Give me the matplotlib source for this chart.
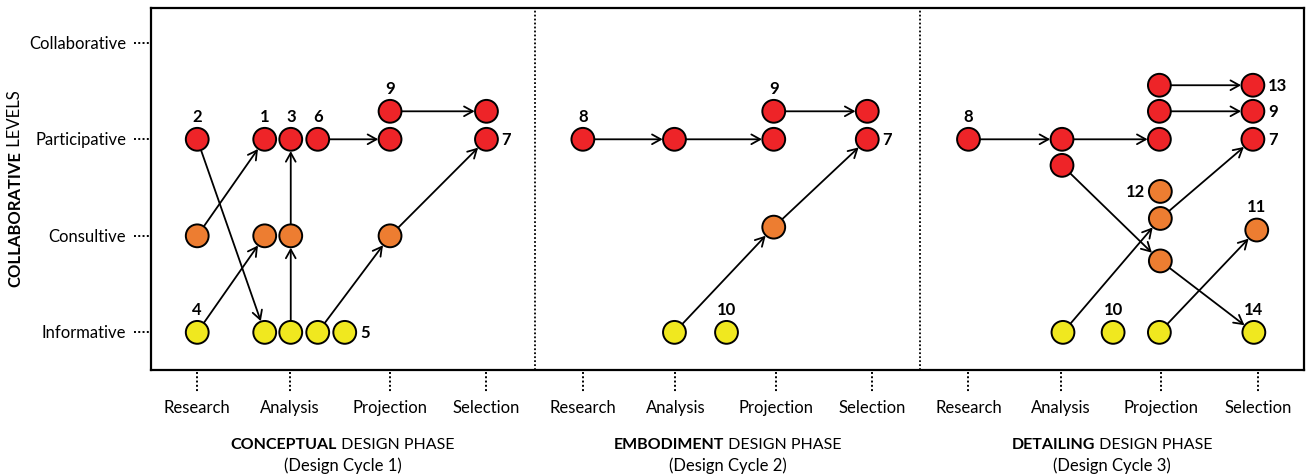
import matplotlib.pyplot as plt
from matplotlib.transforms import blended_transform_factory

plt.rcParams['font.family'] = ['Lato', 'DejaVu Sans']

# levels / stages
levels = ['Informative', 'Consultive', 'Participative', 'Collaborative']
stages = ['Research', 'Analysis', 'Projection', 'Selection']
phases = ['CONCEPTUAL', 'EMBODIMENT', 'DETAILING']
cycles = ['(Design Cycle 1)', '(Design Cycle 2)', '(Design Cycle 3)']

colors = {'I': '#F0E81F', 'C': '#ED7D31', 'P': '#EE2428'}

# nodes: x = stage index (0..11), y = level value, kind, label, label side
node_x = [0, 0, 0, 0.7, 0.97, 1.25, 0.7, 0.97, 0.7, 0.97, 1.25, 1.53, 2, 2, 2, 3, 3,
          4, 4.95, 5.98, 5.98, 6.95, 6.95, 5.98, 4.95, 5.49,
          8, 8.97, 8.97, 9.98, 9.98, 9.98, 10.95, 10.95, 10.95, 9.99, 9.99, 9.99, 10.99, 8.98, 9.5, 9.98, 10.96]
node_y = [2, 1, 0, 2, 2, 2, 1, 1, 0, 0, 0, 0, 2, 2.29, 1, 2.29, 2,
          2, 2, 2, 2.29, 2.29, 2, 1.09, 0, 0,
          2, 2, 1.73, 2, 2.29, 2.56, 2.56, 2.29, 2, 1.46, 1.18, 0.74, 1.06, 0, 0, 0, 0]
node_kind = ['P', 'C', 'I', 'P', 'P', 'P', 'C', 'C', 'I', 'I', 'I', 'I', 'P', 'P', 'C', 'P', 'P',
             'P', 'P', 'P', 'P', 'P', 'P', 'C', 'I', 'I',
             'P', 'P', 'P', 'P', 'P', 'P', 'P', 'P', 'P', 'C', 'C', 'C', 'C', 'I', 'I', 'I', 'I']
node_label = ['2', '', '4', '1', '3', '6', '', '', '', '', '', '5', '', '9', '', '', '7',
              '8', '', '', '9', '', '7', '', '', '10',
              '8', '', '', '', '', '', '13', '9', '7', '12', '', '', '11', '', '10', '', '14']
label_side = ['top', '', 'top', 'top', 'top', 'top', '', '', '', '', '', 'right', '', 'top', '', '', 'right',
              'top', '', '', 'top', '', 'right', '', '', 'top',
              'top', '', '', '', '', '', 'right', 'right', 'right', 'left', '', '', 'top', '', 'top', '', 'top']

# arrows (from node index, to node index)
arrows = [(1, 3), (0, 8), (2, 6), (9, 7), (7, 4), (5, 12), (10, 14), (14, 16), (13, 15),
          (17, 18), (18, 19), (20, 21), (24, 23), (23, 22),
          (26, 27), (27, 29), (30, 33), (31, 32), (28, 37), (37, 42), (39, 36), (36, 34), (41, 38)]

fig = plt.figure(figsize=(13.07, 4.77), dpi=100)
ax = fig.add_axes([0.1155, 0.2222, 0.8822, 0.7589])
ax.set_xlim(-0.48, 11.48)
ax.set_ylim(-0.39, 3.36)
ax.set_xticks([])
ax.set_yticks([])
for s in ax.spines.values():
    s.set_linewidth(1.6)

# phase dividers
for xd in [3.5, 7.5]:
    ax.axvline(xd, color='black', lw=1.3, ls=(0, (1, 1.2)))

# arrows
for a, b in arrows:
    ax.annotate('', xy=(node_x[b], node_y[b]), xytext=(node_x[a], node_y[a]),
                arrowprops=dict(arrowstyle='->,head_length=0.45,head_width=0.25', color='black',
                                lw=1.3, shrinkA=8.5, shrinkB=8.5, mutation_scale=14), zorder=2)

# nodes
ax.scatter(node_x, node_y, s=270, c=[colors[k] for k in node_kind], edgecolors='black',
           linewidths=1.4, zorder=3)

# node labels
offsets = {'top': ((0, 17), 'center'), 'right': ((11, 0), 'left'), 'left': ((-11, 0), 'right')}
for x, y, lab, side in zip(node_x, node_y, node_label, label_side):
    if not lab:
        continue
    off, ha = offsets[side]
    ax.annotate(lab, (x, y), xytext=off, textcoords='offset points', ha=ha, va='center',
                fontsize=12, fontweight='bold', zorder=4)

# y "ticks": labels + dotted lines
ty = blended_transform_factory(ax.transAxes, ax.transData)
for i, lev in enumerate(levels):
    ax.plot([-0.0147, 0], [i, i], transform=ty, clip_on=False, color='black', lw=1.4,
            ls=(0, (1, 1.2)))
    ax.text(-0.0215, i, lev, transform=ty, ha='right', va='center', fontsize=12)

# x "ticks": stage labels + dotted lines
tx = blended_transform_factory(ax.transData, ax.transAxes)
for p in range(3):
    for j, st in enumerate(stages):
        xi = p * 4 + j - (0.04 if j == 1 else 0)
        ax.plot([xi, xi], [-0.006, -0.06], transform=tx, clip_on=False, color='black', lw=1.4,
                ls=(0, (1, 1.2)))
        ax.text(xi, -0.102, st, transform=tx, ha='center', va='center', fontsize=12)

# phase titles (bold word + regular rest), centred per panel
centers = [1.51, 5.5, 9.49]
fig.canvas.draw()
r = fig.canvas.get_renderer()
for c, ph, cy in zip(centers, phases, cycles):
    t1 = ax.text(c, -0.204, ph, transform=tx, ha='left', va='center', fontsize=11.5,
                 fontweight='bold')
    t2 = ax.annotate(' DESIGN PHASE', xy=(1, 0), xycoords=t1, ha='left', va='bottom', fontsize=11.5)
    w1 = t1.get_window_extent(r).width
    w2 = t2.get_window_extent(r).width
    x0 = ax.transData.transform((c, 0))[0] - (w1 + w2) / 2
    t1.set_x(ax.transData.inverted().transform((x0, 0))[0])
    ax.text(c, -0.262, cy, transform=tx, ha='center', va='center', fontsize=12)

# y-axis title
y1 = fig.text(0.0115, 0.54, 'COLLABORATIVE', rotation=90, ha='center', va='center',
              fontsize=12, fontweight='bold')
fig.canvas.draw()
y2 = fig.text(0, 0, ' LEVELS', rotation=90, fontsize=12)
bb = y1.get_window_extent(r)
y2.set_position(((bb.x0 + bb.x1) / 2 / fig.bbox.width, bb.y1 / fig.bbox.height))
y2.set_ha('center')
y2.set_va('bottom')

fig.savefig('out.png', dpi=100)
